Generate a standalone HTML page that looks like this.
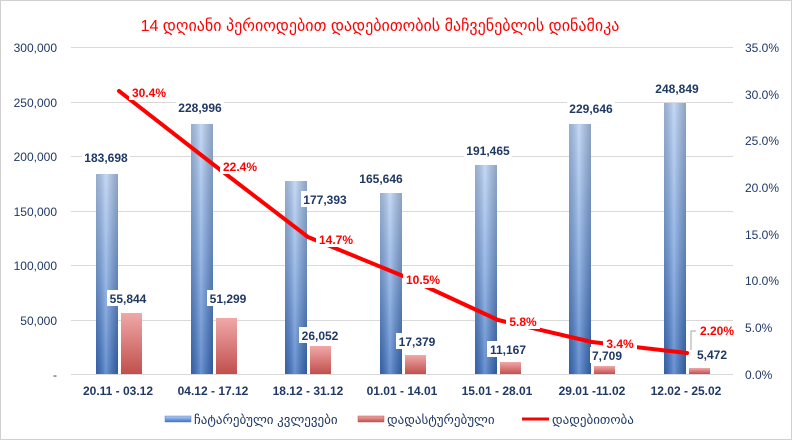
<!DOCTYPE html>
<html><head><meta charset="utf-8"><style>
html,body{margin:0;padding:0;background:#fff}
svg{display:block}
text{font-family:"Liberation Sans","DejaVu Sans",sans-serif}
</style></head><body>
<svg width="792" height="440" viewBox="0 0 792 440" xmlns="http://www.w3.org/2000/svg">
<defs>
<linearGradient id="bv" x1="0" y1="0" x2="0" y2="1"><stop offset="0" stop-color="#b3cdf2"/><stop offset="0.5" stop-color="#7aa3e0"/><stop offset="1" stop-color="#3a6fc2"/></linearGradient>
<linearGradient id="bh" x1="0" y1="0" x2="1" y2="0"><stop offset="0" stop-color="#000" stop-opacity="0.15"/><stop offset="0.45" stop-color="#fff" stop-opacity="0.25"/><stop offset="1" stop-color="#000" stop-opacity="0.2"/></linearGradient>
<linearGradient id="rv" x1="0" y1="0" x2="0" y2="1"><stop offset="0" stop-color="#f0a8a8"/><stop offset="1" stop-color="#c0504d"/></linearGradient>
</defs>
<rect x="0.5" y="0.5" width="791" height="439" fill="#fff" stroke="#d0d0d0"/>
<text x="380" y="31" text-anchor="middle" font-size="16" fill="#ff0000" font-family="Liberation Serif,'DejaVu Serif',serif" letter-spacing="0">14 დღიანი პერიოდებით დადებითობის მაჩვენებლის დინამიკა</text>
<g stroke="#d9d9d9" stroke-width="1">
<line x1="71" y1="47.5" x2="733" y2="47.5"/><line x1="71" y1="102.5" x2="733" y2="102.5"/><line x1="71" y1="156.5" x2="733" y2="156.5"/><line x1="71" y1="211.5" x2="733" y2="211.5"/><line x1="71" y1="265.5" x2="733" y2="265.5"/><line x1="71" y1="320.5" x2="733" y2="320.5"/><line x1="71" y1="374.5" x2="733" y2="374.5"/>
</g>
<g font-size="12" fill="#1f3864" text-anchor="end">
<text x="57" y="52">300,000</text><text x="57" y="107">250,000</text><text x="57" y="161">200,000</text><text x="57" y="216">150,000</text><text x="57" y="270">100,000</text><text x="57" y="325">50,000</text><text x="57" y="379">-</text>
</g>
<g font-size="12" fill="#1f3864" text-anchor="start">
<text x="745" y="52">35.0%</text><text x="745" y="99">30.0%</text><text x="745" y="145">25.0%</text><text x="745" y="192">20.0%</text><text x="745" y="239">15.0%</text><text x="745" y="285">10.0%</text><text x="745" y="332">5.0%</text><text x="745" y="379">0.0%</text>
</g>
<g>
<rect x="96" y="174" width="22" height="200" fill="url(#bv)"/><rect x="96" y="174" width="22" height="200" fill="url(#bh)"/>
<rect x="191" y="124" width="22" height="250" fill="url(#bv)"/><rect x="191" y="124" width="22" height="250" fill="url(#bh)"/>
<rect x="285" y="181" width="22" height="193" fill="url(#bv)"/><rect x="285" y="181" width="22" height="193" fill="url(#bh)"/>
<rect x="380" y="193" width="22" height="181" fill="url(#bv)"/><rect x="380" y="193" width="22" height="181" fill="url(#bh)"/>
<rect x="475" y="165" width="22" height="209" fill="url(#bv)"/><rect x="475" y="165" width="22" height="209" fill="url(#bh)"/>
<rect x="569" y="124" width="22" height="250" fill="url(#bv)"/><rect x="569" y="124" width="22" height="250" fill="url(#bh)"/>
<rect x="664" y="103" width="22" height="271" fill="url(#bv)"/><rect x="664" y="103" width="22" height="271" fill="url(#bh)"/>
<rect x="121" y="313" width="21" height="61" fill="url(#rv)"/>
<rect x="216" y="318" width="21" height="56" fill="url(#rv)"/>
<rect x="310" y="346" width="21" height="28" fill="url(#rv)"/>
<rect x="405" y="355" width="21" height="19" fill="url(#rv)"/>
<rect x="500" y="362" width="21" height="12" fill="url(#rv)"/>
<rect x="594" y="366" width="21" height="8" fill="url(#rv)"/>
<rect x="689" y="368" width="21" height="6" fill="url(#rv)"/>
</g>
<polyline points="119,91 214,165 308,237 403,276 498,320 592,342 687,353" fill="none" stroke="#ff0000" stroke-width="4" stroke-linejoin="round" stroke-linecap="round"/>
<g font-size="12" font-weight="bold" fill="#1f3864" text-anchor="middle">
<rect x="82" y="149" width="48" height="16" fill="#fff"/><text x="106" y="162">183,698</text>
<rect x="176" y="99" width="48" height="16" fill="#fff"/><text x="200" y="112">228,996</text>
<rect x="301" y="191" width="48" height="16" fill="#fff"/><text x="325" y="204">177,393</text>
<rect x="357" y="170" width="48" height="16" fill="#fff"/><text x="381" y="183">165,646</text>
<rect x="464" y="142" width="48" height="16" fill="#fff"/><text x="488" y="155">191,465</text>
<rect x="567" y="100" width="48" height="16" fill="#fff"/><text x="591" y="113">229,646</text>
<rect x="653" y="80" width="48" height="16" fill="#fff"/><text x="677" y="93">248,849</text>
<rect x="107" y="290" width="42" height="16" fill="#fff"/><text x="128" y="303">55,844</text>
<rect x="207" y="290" width="42" height="16" fill="#fff"/><text x="228" y="303">51,299</text>
<rect x="299" y="327" width="42" height="16" fill="#fff"/><text x="320" y="340">26,052</text>
<rect x="396" y="333" width="42" height="16" fill="#fff"/><text x="417" y="346">17,379</text>
<rect x="487" y="341" width="42" height="16" fill="#fff"/><text x="508" y="354">11,167</text>
<rect x="590" y="347" width="34" height="16" fill="#fff"/><text x="607" y="360">7,709</text>
<rect x="695" y="346" width="34" height="16" fill="#fff"/><text x="712" y="359">5,472</text>
</g>
<polyline points="691,350 691,331 696,331" fill="none" stroke="#a6a6a6" stroke-width="1"/>
<g font-size="12" font-weight="bold" fill="#ff0000" text-anchor="middle">
<rect x="129" y="84" width="40" height="16" fill="#fff"/><text x="149" y="97">30.4%</text>
<rect x="220" y="158" width="40" height="16" fill="#fff"/><text x="240" y="171">22.4%</text>
<rect x="316" y="231" width="40" height="16" fill="#fff"/><text x="336" y="244">14.7%</text>
<rect x="403" y="272" width="40" height="16" fill="#fff"/><text x="423" y="284">10.5%</text>
<rect x="506" y="313" width="34" height="16" fill="#fff"/><text x="523" y="326">5.8%</text>
<rect x="603" y="335" width="34" height="16" fill="#fff"/><text x="620" y="348">3.4%</text>
<rect x="697" y="322" width="40" height="16" fill="#fff"/><text x="717" y="335">2.20%</text>
</g>
<g font-size="12" font-weight="bold" fill="#1f3864" text-anchor="middle">
<text x="118" y="395">20.11 - 03.12</text><text x="213" y="395">04.12 - 17.12</text><text x="308" y="395">18.12 - 31.12</text><text x="402" y="395">01.01 - 14.01</text><text x="497" y="395">15.01 - 28.01</text><text x="592" y="395">29.01 -11.02</text><text x="686" y="395">12.02 - 25.02</text>
</g>
<rect x="165" y="416" width="26" height="6" fill="url(#bv)" stroke="#5b84c4" stroke-width="0.5"/>
<rect x="358" y="416" width="26" height="6" fill="url(#rv)" stroke="#b55" stroke-width="0.5"/>
<line x1="522" y1="419" x2="549" y2="419" stroke="#ff0000" stroke-width="3"/>
<g font-size="13" fill="#1f3864" font-family="Liberation Serif,'DejaVu Serif',serif">
<text x="194" y="424">ჩატარებული კვლევები</text>
<text x="387" y="424">დადასტურებული</text>
<text x="552" y="424">დადებითობა</text>
</g>
</svg>
</body></html>
